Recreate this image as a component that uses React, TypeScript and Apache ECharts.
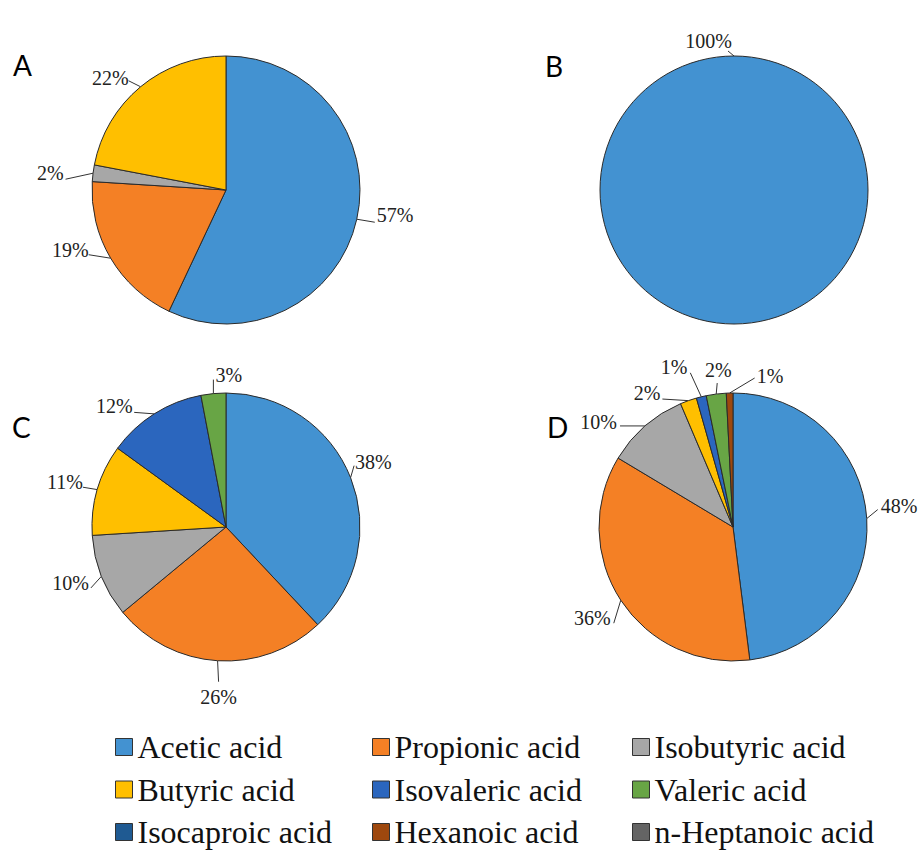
import React, { useEffect, useRef } from "react";
import * as echarts from "echarts";

// ---------- data ----------
const acidNames = [
  "Acetic acid",
  "Propionic acid",
  "Isobutyric acid",
  "Butyric acid",
  "Isovaleric acid",
  "Valeric acid",
  "Isocaproic acid",
  "Hexanoic acid",
  "n-Heptanoic acid",
];

const acidsA = ["Acetic acid", "Propionic acid", "Isobutyric acid", "Butyric acid"];
const valuesA = [57, 19, 2, 22];

const acidsB = ["Acetic acid"];
const valuesB = [100];

const acidsC = ["Acetic acid", "Propionic acid", "Isobutyric acid", "Butyric acid", "Isovaleric acid", "Valeric acid"];
const valuesC = [38, 26, 10, 11, 12, 3];

const acidsD = ["Acetic acid", "Propionic acid", "Isobutyric acid", "Butyric acid", "Isovaleric acid", "Valeric acid", "Hexanoic acid"];
const valuesD = [48, 35.6, 10, 2, 1.2, 2.4, 0.8];

const panelLetters = ["A", "B", "C", "D"];

const legendCol1 = ["Acetic acid", "Butyric acid", "Isocaproic acid"];
const legendCol2 = ["Propionic acid", "Isovaleric acid", "Hexanoic acid"];
const legendCol3 = ["Isobutyric acid", "Valeric acid", "n-Heptanoic acid"];

// ---------- styles / layout ----------
const acidColors: Record<string, string> = {
  "Acetic acid": "#4392D1",
  "Propionic acid": "#F48025",
  "Isobutyric acid": "#A7A7A7",
  "Butyric acid": "#FFBF00",
  "Isovaleric acid": "#2B66BE",
  "Valeric acid": "#68A545",
  "Isocaproic acid": "#1F5A92",
  "Hexanoic acid": "#9E480E",
  "n-Heptanoic acid": "#646464",
};

type Place = [number, number, number, number, "left" | "right" | "center"];
// [line end dx, line end dy (from slice edge), text dx, text dy (from line end), align]
const placeA: Place[] = [
  [18, 3, 2, -7, "left"],
  [-22, -3.5, 0, -5, "right"],
  [-27.5, 6, -2, -6, "right"],
  [-12, -6, 0, -3, "right"],
];
const placeB: Place[] = [[-6, -5, 4, -10, "right"]];
const placeC: Place[] = [
  [3.5, -12, 1, -4, "left"],
  [1, 21, 0, 15, "center"],
  [-10.5, 11.6, -2, -5, "right"],
  [-14.4, -2.4, 0, -5, "right"],
  [-20, -1.5, -1.5, -6.5, "right"],
  [0, -14, 2, -5, "left"],
];
const placeD: Place[] = [
  [11, -9, 3, -4, "left"],
  [-7, 23, -3, -5, "right"],
  [-25, 0, -3, -4, "right"],
  [-26, -1.6, -2, -6, "right"],
  [-11, -24, -3, -6, "right"],
  [1, -11, 1, -13, "center"],
  [25, -15, 2, -2, "left"],
];

const SERIF = "'Liberation Serif', 'Times New Roman', serif";
const RADIUS = 134;

function makePie(
  name: string,
  names: string[],
  values: number[],
  center: [number, number],
  startAngle: number,
  place: Place[]
) {
  const total = values.reduce((a, b) => a + b, 0);
  return {
    type: "pie",
    name,
    center,
    radius: RADIUS,
    startAngle,
    clockwise: true,
    avoidLabelOverlap: false,
    silent: true,
    emphasis: { disabled: true },
    itemStyle: { borderColor: "#2a2a2a", borderWidth: 1 },
    label: {
      show: true,
      position: "outer",
      alignTo: "none",
      fontFamily: SERIF,
      fontSize: 20,
      color: "#222",
      formatter: (p: any) => Math.round(p.value) + "%",
    },
    labelLine: {
      show: true,
      length: 8,
      length2: 8,
      smooth: false,
      lineStyle: { color: "#333", width: 1 },
    },
    labelLayout: (params: any) => {
      const pl = place[params.dataIndex];
      let ex: number, ey: number;
      const pts = params.labelLinePoints;
      if (pts && pts.length) {
        ex = pts[0][0];
        ey = pts[0][1];
      } else {
        let cum = 0;
        for (let i = 0; i < params.dataIndex; i++) cum += values[i];
        const mid = cum + values[params.dataIndex] / 2;
        const a = ((90 - startAngle) + (mid / total) * 360) * (Math.PI / 180);
        ex = center[0] + RADIUS * Math.sin(a);
        ey = center[1] - RADIUS * Math.cos(a);
      }
      const endX = ex + pl[0];
      const endY = ey + pl[1];
      return {
        x: endX + pl[2],
        y: endY + pl[3],
        align: pl[4],
        verticalAlign: "middle",
        labelLinePoints: [
          [ex, ey],
          [endX, endY],
        ],
      };
    },
    data: names.map((n, i) => ({
      name: n,
      value: values[i],
      itemStyle: { color: acidColors[n] },
    })),
  };
}

function makeLegend(items: string[], left: number) {
  return {
    orient: "vertical",
    left,
    top: 731,
    width: 280,
    height: 200,
    padding: 0,
    icon: "rect",
    itemWidth: 17,
    itemHeight: 17,
    itemGap: 10.5,
    selectedMode: false,
    itemStyle: { borderColor: "#333", borderWidth: 1 },
    textStyle: { fontFamily: SERIF, fontSize: 32, color: "#111" },
    data: items,
  };
}

export default function App() {
  const ref = useRef<HTMLDivElement>(null);

  useEffect(() => {
    if (!ref.current) return;
    const chart = echarts.init(ref.current, null, { renderer: "svg" });

    const letterPos: [number, number][] = [
      [13, 65],
      [545, 66],
      [12, 427],
      [547, 427],
    ];

    const option: any = {
      animation: false,
      backgroundColor: "#ffffff",
      legend: [makeLegend(legendCol1, 115), makeLegend(legendCol2, 372), makeLegend(legendCol3, 632)],
      graphic: panelLetters.map((t, i) => ({
        type: "text",
        x: letterPos[i][0],
        y: letterPos[i][1],
        style: {
          text: t,
          fontFamily: "Lato, 'Open Sans', sans-serif",
          fontSize: 28,
          fill: "#000",
          verticalAlign: "middle",
          align: "left",
        },
      })),
      series: [
        makePie("A", acidsA, valuesA, [226, 190], 90, placeA),
        makePie("B", acidsB, valuesB, [734, 190], 270, placeB),
        makePie("C", acidsC, valuesC, [226, 527], 90, placeC),
        makePie("D", acidsD, valuesD, [733, 527], 90, placeD),
        // invisible provider so that every acid has a legend entry
        {
          type: "pie",
          name: "legend-provider",
          center: [-200, -200],
          radius: 0,
          silent: true,
          label: { show: false },
          labelLine: { show: false },
          itemStyle: { borderColor: "#333", borderWidth: 1 },
          data: acidNames.map((n) => ({ name: n, value: 1, itemStyle: { color: acidColors[n] } })),
        },
      ],
    };

    chart.setOption(option);
    return () => chart.dispose();
  }, []);

  return (
    <div
      ref={ref}
      style={{ position: "absolute", left: 0, top: 0, width: 921, height: 850, background: "#fff" }}
    />
  );
}
